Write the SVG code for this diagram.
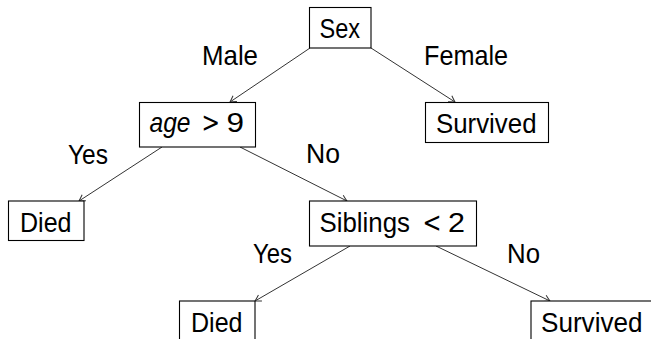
<svg xmlns="http://www.w3.org/2000/svg" width="651" height="339" viewBox="0 0 651 339">
<style>
  .box { fill: #ffffff; stroke: #000000; stroke-width: 1.1; }
  .t { font-family: "Liberation Sans", Arial, sans-serif; font-size: 28px; fill: #000000; }
  .m { font-family: "DejaVu Sans", sans-serif; font-size: 28px; }
  .edge { stroke: #333333; stroke-width: 1; fill: none; marker-end: url(#arr); }
</style>
<defs>
  <marker id="arr" viewBox="-8 -5 10 10" refX="0" refY="0" markerWidth="10" markerHeight="10" markerUnits="userSpaceOnUse" orient="auto">
    <path d="M -6 -3.5 Q -2 -1 0 0 Q -2 1 -6 3.5" fill="none" stroke="#333333" stroke-width="1"/>
  </marker>
</defs>
<rect width="651" height="339" fill="#ffffff"/>
<g id="connectors">
  <line class="edge" x1="310" y1="48" x2="230" y2="102"/>
  <line class="edge" x1="371" y1="48" x2="455" y2="102"/>
  <line class="edge" x1="162" y1="147" x2="79" y2="201"/>
  <line class="edge" x1="240" y1="147" x2="347" y2="201"/>
  <line class="edge" x1="350" y1="246" x2="255" y2="301"/>
  <line class="edge" x1="436" y1="246" x2="550" y2="301"/>
  <text class="t" x="202" y="65" textLength="56" lengthAdjust="spacingAndGlyphs">Male</text>
  <text class="t" x="424" y="65" textLength="84" lengthAdjust="spacingAndGlyphs">Female</text>
  <text class="t" x="68" y="164" textLength="40" lengthAdjust="spacingAndGlyphs">Yes</text>
  <text class="t" x="306" y="163" textLength="34" lengthAdjust="spacingAndGlyphs">No</text>
  <text class="t" x="253" y="263" textLength="39" lengthAdjust="spacingAndGlyphs">Yes</text>
  <text class="t" x="507" y="263" textLength="33" lengthAdjust="spacingAndGlyphs">No</text>
</g>
<g id="node-sex">
  <rect class="box" x="309.5" y="7.5" width="61.5" height="40.5"/>
  <text class="t" x="319.5" y="37.5" textLength="40.5" lengthAdjust="spacingAndGlyphs">Sex</text>
</g>
<g id="node-age">
  <rect class="box" x="139.5" y="102.5" width="116" height="44.5"/>
  <text class="t" x="149.5" y="131.7"><tspan font-style="italic" textLength="41" lengthAdjust="spacingAndGlyphs">age</tspan><tspan class="m" x="201.5" textLength="18.5" lengthAdjust="spacingAndGlyphs">&gt;</tspan><tspan x="226.5" textLength="17.5" lengthAdjust="spacingAndGlyphs">9</tspan></text>
</g>
<g id="node-survived-top">
  <rect class="box" x="425.5" y="102.5" width="123" height="40"/>
  <text class="t" x="436" y="132.7" textLength="100.5" lengthAdjust="spacingAndGlyphs">Survived</text>
</g>
<g id="node-died-left">
  <rect class="box" x="8.5" y="201" width="75.5" height="39.5"/>
  <text class="t" x="20" y="231.7" textLength="51.5" lengthAdjust="spacingAndGlyphs">Died</text>
</g>
<g id="node-siblings">
  <rect class="box" x="309.5" y="201" width="167" height="45"/>
  <text class="t" x="319.5" y="231.7"><tspan textLength="90.5" lengthAdjust="spacingAndGlyphs">Siblings</tspan><tspan class="m" x="422.5" textLength="19" lengthAdjust="spacingAndGlyphs">&lt;</tspan><tspan x="448" textLength="17" lengthAdjust="spacingAndGlyphs">2</tspan></text>
</g>
<g id="node-died-bottom">
  <rect class="box" x="179.5" y="301" width="75.5" height="45"/>
  <text class="t" x="191" y="331.7" textLength="51.5" lengthAdjust="spacingAndGlyphs">Died</text>
</g>
<g id="node-survived-bottom">
  <rect class="box" x="531" y="301" width="123" height="45"/>
  <text class="t" x="541" y="331.7" textLength="101.5" lengthAdjust="spacingAndGlyphs">Survived</text>
</g>
</svg>
